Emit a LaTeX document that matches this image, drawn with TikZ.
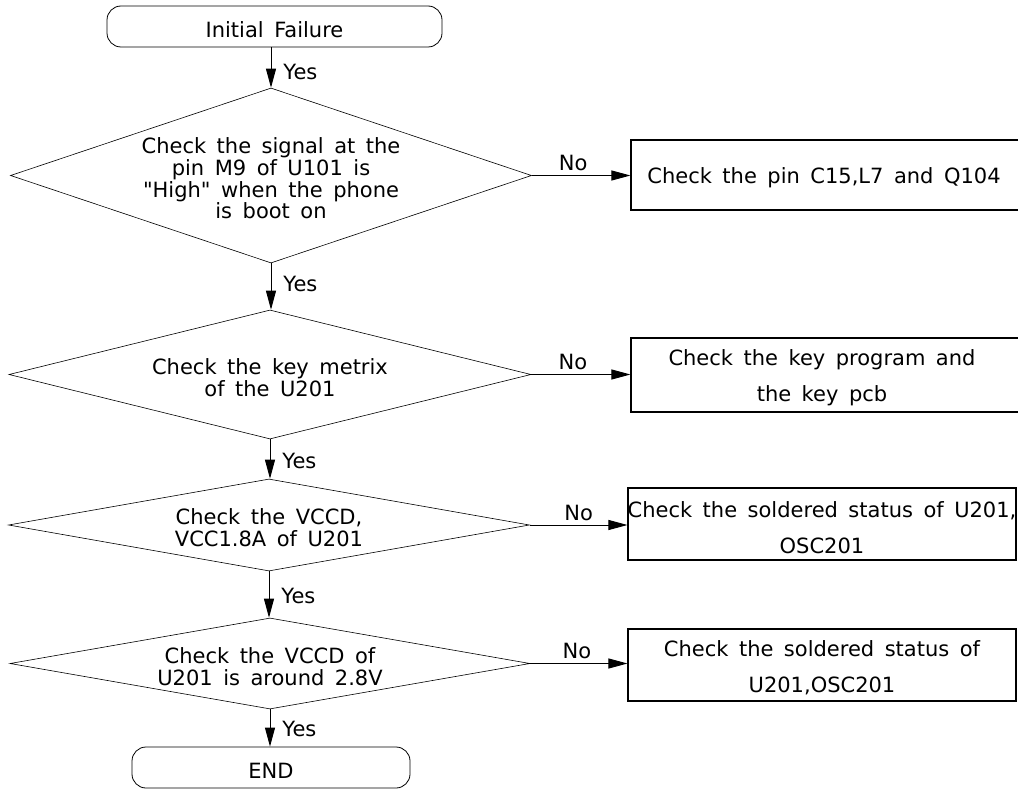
\documentclass[tikz,border=0pt]{standalone}
\usepackage{fontspec}
\setmainfont{DejaVu Sans}
\usetikzlibrary{shapes.geometric,arrows.meta}
\newcommand\dfont{\fontsize{21}{21.7}\selectfont\spaceskip=0.5em plus 0.1em\relax}
\newcommand\bfont{\fontsize{21}{36}\selectfont\spaceskip=0.5em plus 0.1em\relax}
\begin{document}
\begin{tikzpicture}[x=1pt,y=-1pt,
  every node/.style={font=\dfont},
  term/.style={draw, rounded corners=14pt, line width=0.8pt, inner sep=0pt},
  dia/.style={draw, diamond, inner sep=0pt, line width=0.6pt},
  box/.style={draw, rectangle, inner sep=0pt, line width=1.1pt},
  ttxt/.style={inner sep=0pt, font=\dfont},
  dtxt/.style={align=center, inner sep=0pt, font=\dfont},
  btxt/.style={align=center, inner sep=0pt, font=\bfont},
  arr/.style={-{Triangle[length=19pt,width=10pt]}, line width=0.9pt},
  lab/.style={inner sep=0pt}]
\useasboundingbox (0,0) rectangle (1018,789);
\clip (0,0) rectangle (1018,789);
\fill[white] (0,0) rectangle (1018,789);

% terminals
\node[term, minimum width=335pt, minimum height=41pt,
  label={[ttxt,yshift=-3pt]center:{Initial Failure}}] (start) at (274.5,26.5) {};
\node[term, minimum width=278pt, minimum height=41pt,
  label={[ttxt,yshift=-3pt]center:{END}}] (end) at (271,767.5) {};

% decisions
\node[dia, minimum width=521pt, minimum height=175pt,
  label={[dtxt,yshift=-3pt]center:{Check the signal at the\\pin M9 of U101 is\\\textquotedbl High\textquotedbl{} when the phone\\is boot on}}] (d1) at (271,175.5) {};
\node[dia, minimum width=522pt, minimum height=129pt,
  label={[dtxt,yshift=-3pt]center:{Check the key metrix\\of the U201}}] (d2) at (270,374.5) {};
\node[dia, minimum width=521pt, minimum height=92pt,
  label={[dtxt,yshift=-3pt]center:{Check the VCCD,\\VCC1.8A of U201}}] (d3) at (269,525) {};
\node[dia, minimum width=520pt, minimum height=91pt,
  label={[dtxt,yshift=-3pt]center:{Check the VCCD of\\U201 is around 2.8V}}] (d4) at (270,663.5) {};

% action boxes (the two upper ones run past the right edge)
\node[box, minimum width=410pt, minimum height=70pt,
  label={[btxt,xshift=-12pt,yshift=-3pt]center:{Check the pin C15,L7 and Q104}}] (b1) at (836,175) {};
\node[box, minimum width=410pt, minimum height=74pt,
  label={[btxt,xshift=-14pt,yshift=-3pt]center:{Check the key program and\\the key pcb}}] (b2) at (836,375) {};
\node[box, minimum width=388pt, minimum height=72pt,
  label={[btxt,yshift=-4pt]center:{Check the soldered status of U201,\\OSC201}}] (b3) at (822,524) {};
\node[box, minimum width=388pt, minimum height=72pt,
  label={[btxt,yshift=-3pt]center:{Check the soldered status of\\U201,OSC201}}] (b4) at (822,665) {};

% Yes connectors
\draw[arr] (start.south -| d1.north) -- node[lab, right=12pt, pos=0.6] {Yes} (d1.north);
\draw[arr] (d1.south) -- node[lab, right=12pt, pos=0.45] {Yes} (d1.south |- d2.north);
\draw[arr] (d2.south) -- node[lab, right=12pt, pos=0.55] {Yes} (d2.south |- d3.north);
\draw[arr] (d3.south) -- node[lab, right=12pt, pos=0.53] {Yes} (d3.south |- d4.north);
\draw[arr] (d4.south) -- node[lab, right=12pt, pos=0.53] {Yes} (d4.south |- end.north);

% No connectors
\draw[arr] (d1.east) -- node[lab, above=4pt, pos=0.42] {No} (d1.east -| b1.west);
\draw[arr] (d2.east) -- node[lab, above=4pt, pos=0.42] {No} (d2.east -| b2.west);
\draw[arr] (d3.east) -- node[lab, above=4pt, pos=0.5] {No} (d3.east -| b3.west);
\draw[arr] (d4.east) -- node[lab, above=4pt, pos=0.48] {No} (d4.east -| b4.west);
\end{tikzpicture}
\end{document}
